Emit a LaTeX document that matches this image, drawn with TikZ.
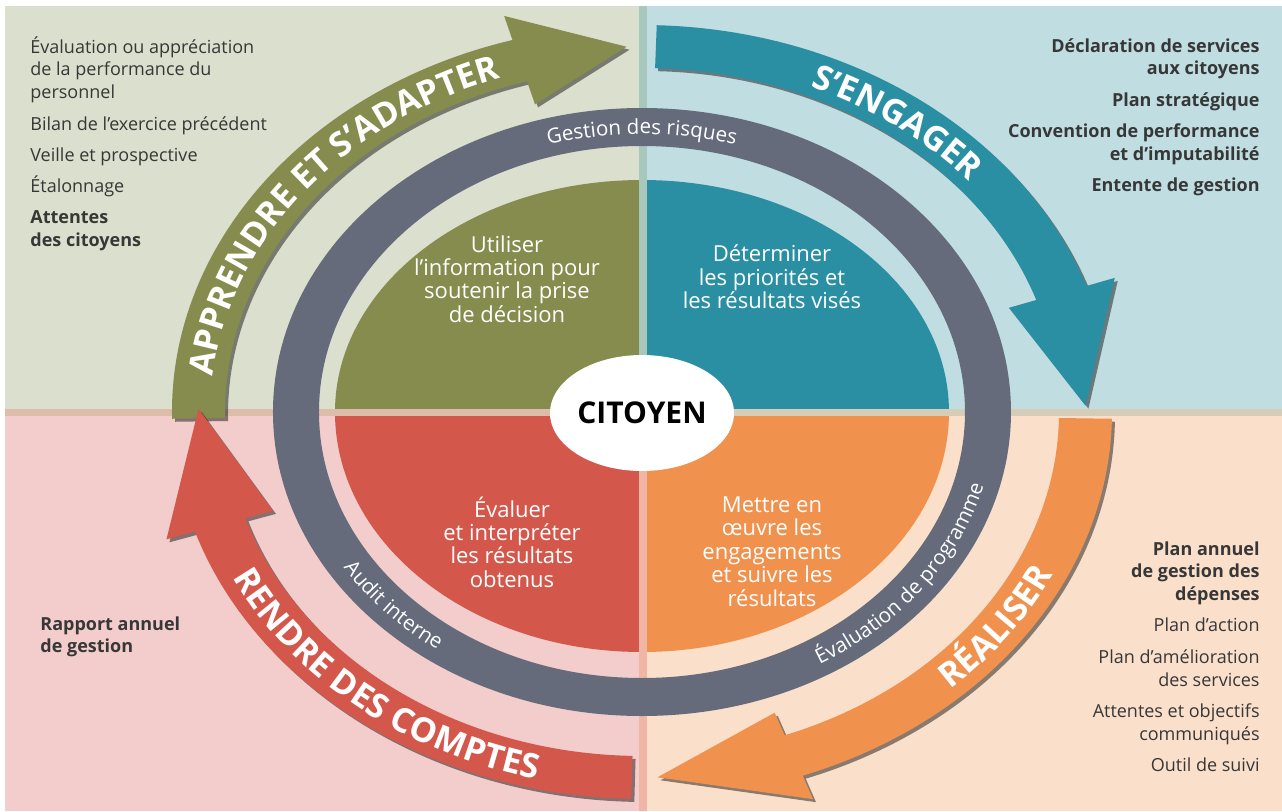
\documentclass[tikz,border=0pt]{standalone}
\usepackage{fontspec}
\setmainfont{Open Sans}
\usepackage{tikz}
\usetikzlibrary{shapes.geometric,decorations.text}
\definecolor{phase1}{RGB}{133,140,77}
\definecolor{phase2}{RGB}{42,143,163}
\definecolor{phase3}{RGB}{240,146,78}
\definecolor{phase4}{RGB}{212,87,75}
\definecolor{bg1}{RGB}{219,223,205}
\definecolor{bg2}{RGB}{192,222,226}
\definecolor{bg3}{RGB}{250,223,203}
\definecolor{bg4}{RGB}{242,205,204}
\definecolor{vsep1}{RGB}{168,200,190}
\definecolor{vsep2}{RGB}{240,182,165}
\definecolor{hsep1}{RGB}{222,188,170}
\definecolor{hsep2}{RGB}{214,204,184}
\definecolor{ringgrey}{RGB}{101,107,122}
\definecolor{txtgrey}{RGB}{55,55,55}
\newcommand\arrowfont{\fontsize{17}{17}\selectfont\bfseries}
\newcommand\ringfont{\fontsize{10.3}{10.3}\selectfont}
% one arrow of the cycle: #1 colour, #2 tail angle, #3 head base angle, #4 tip angle
\newcommand\phasearrow[4]{%
  \fill[black,opacity=.45,shift={(3,-3)}] (#2:470 and 387) arc[start angle=#2,end angle=#3,x radius=470,y radius=387]
    -- (#3:500 and 412) -- (#4:443.5 and 365.5) -- (#3:388 and 320) -- (#3:417 and 344)
    arc[start angle=#3,end angle=#2,x radius=417,y radius=344] -- cycle;
  \fill[#1] (#2:470 and 387) arc[start angle=#2,end angle=#3,x radius=470,y radius=387]
    -- (#3:500 and 412) -- (#4:443.5 and 365.5) -- (#3:388 and 320) -- (#3:417 and 344)
    arc[start angle=#3,end angle=#2,x radius=417,y radius=344] -- cycle;}
\tikzset{
  listtxt/.style={anchor=north west,align=left,inner sep=0pt,text=txtgrey,font=\fontsize{9}{11.4}\selectfont},
  quadtxt/.style={align=center,inner sep=0pt,text=white,font=\fontsize{11}{11.7}\selectfont},
  arrowtxt/.style={decorate,decoration={text along path,text align=center,text color=white,text={|\arrowfont|#1}}},
  ringtxt/.style={decorate,decoration={text along path,text align=center,text color=white,text={|\ringfont|#1}}}
}
\begin{document}
\begin{tikzpicture}[x=0.5pt,y=0.5pt]
\useasboundingbox (-642,-399) rectangle (640,412);
\fill[white] (-642,-399) rectangle (640,412);
\fill[bg1] (-637,0) rectangle (1,406);
\fill[bg2] (1,0) rectangle (640,406);
\fill[bg4] (-637,-399) rectangle (1,0);
\fill[bg3] (1,-399) rectangle (640,0);

% the four quarters
\fill[phase1] (0,0) -- (-307,0) arc[start angle=180,end angle=90,x radius=307,y radius=232] -- cycle;
\fill[phase2] (0,0) -- (0,232) arc[start angle=90,end angle=0,x radius=307,y radius=232] -- cycle;
\fill[phase3] (0,0) -- (307,0) arc[start angle=0,end angle=-90,x radius=307,y radius=240] -- cycle;
\fill[phase4] (0,0) -- (0,-240) arc[start angle=-90,end angle=-180,x radius=307,y radius=240] -- cycle;

\draw[line width=4pt,vsep1] (1,0) -- (1,406);
\draw[line width=4pt,vsep2] (1,0) -- (1,-399);
\draw[line width=3.5pt,hsep1] (-637,-0.5) -- (1,-0.5);
\draw[line width=3.5pt,hsep2] (1,-0.5) -- (640,-0.5);

% grey ring
\fill[ringgrey,even odd rule] (0,0) ellipse[x radius=369,y radius=304] (0,0) ellipse[x radius=323,y radius=266];
\path[ringtxt=Gestion des risques] (110:339 and 278) arc[start angle=110,end angle=70,x radius=339,y radius=278];
\path[ringtxt=Évaluation de programme] (-62:353 and 292) arc[start angle=-62,end angle=-12,x radius=353,y radius=292];
\path[ringtxt=Audit interne] (203:353 and 292) arc[start angle=203,end angle=243,x radius=353,y radius=292];

\node[ellipse,fill=white,minimum width=92pt,minimum height=58pt,inner sep=0pt,font=\fontsize{15}{15}\selectfont\bfseries] (citoyen) at (0,-1) {CITOYEN};

\node[quadtxt] (utiliser) at (-135,133) {Utiliser\\l’information pour\\soutenir la prise\\de décision};
\node[quadtxt] (determiner) at (130,135) {Déterminer\\les priorités et\\les résultats visés};
\node[quadtxt] (mettre) at (130,-139.5) {Mettre en\\œuvre les\\engagements\\et suivre les\\résultats};
\node[quadtxt] (evaluer) at (-130,-130) {Évaluer\\et interpréter\\les résultats\\obtenus};

% outer cycle
\phasearrow{phase1}{181}{106}{92}
\phasearrow{phase2}{88.2}{19}{1}
\phasearrow{phase3}{-1}{-70}{-88}
\phasearrow{phase4}{268.7}{198}{179.5}
\path[arrowtxt=APPRENDRE ET S’ADAPTER] (178:431 and 353.5) arc[start angle=178,end angle=106,x radius=431,y radius=353.5];
\path[arrowtxt=S’ENGAGER] (80:431 and 353.5) arc[start angle=80,end angle=26,x radius=431,y radius=353.5];
\path[arrowtxt=RÉALISER] (-56:455.5 and 377.5) arc[start angle=-56,end angle=-16,x radius=455.5,y radius=377.5];
\path[arrowtxt=RENDRE DES COMPTES] (201:455.5 and 377.5) arc[start angle=201,end angle=261,x radius=455.5,y radius=377.5];

% side lists
\node[listtxt] (apprendre) at (-612,376) {Évaluation ou appréciation\\de la performance du\\personnel\\[4.25pt]Bilan de l'exercice précédent\\[4.25pt]Veille et prospective\\[4.25pt]Étalonnage\\[4.25pt]\textbf{Attentes}\\\textbf{des citoyens}};
\node[listtxt,anchor=north east,align=right,font=\fontsize{9}{11.4}\selectfont\bfseries] (engager) at (618,374) {Déclaration de services\\aux citoyens\\[4.25pt]Plan stratégique\\[4.25pt]Convention de performance\\et d'imputabilité\\[4.25pt]Entente de gestion};
\node[listtxt,font=\fontsize{9}{11.4}\selectfont\bfseries] (rendre) at (-602,-204) {Rapport annuel\\de gestion};
\node[listtxt,anchor=north east,align=right] (realiser) at (618,-129) {\textbf{Plan annuel}\\\textbf{de gestion des}\\\textbf{dépenses}\\[4.25pt]Plan d'action\\[4.25pt]Plan d'amélioration\\des services\\[4.25pt]Attentes et objectifs\\communiqués\\[4.25pt]Outil de suivi};
\end{tikzpicture}
\end{document}
